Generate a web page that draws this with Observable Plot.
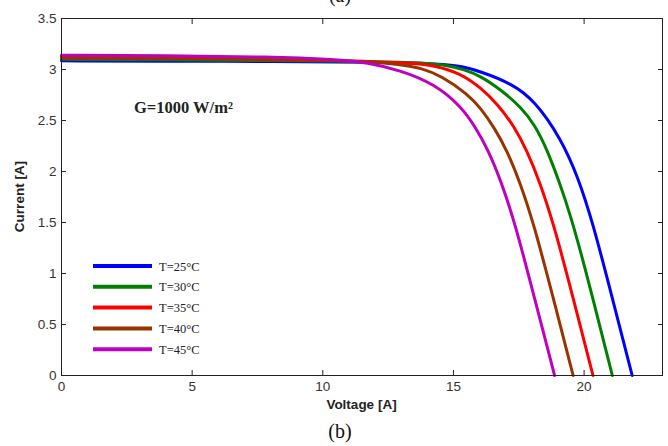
<!DOCTYPE html>
<html><head><meta charset="utf-8">
<script src="https://cdn.jsdelivr.net/npm/d3@7"></script>
<script src="https://cdn.jsdelivr.net/npm/@observablehq/plot@0.6"></script>
<style>body{margin:0;background:#fff}</style>
</head><body><div id="chart"></div>
<script>
const series = ["T=25°C","T=30°C","T=35°C","T=40°C","T=45°C"];
const colors = ["#0000FF","#008000","#FF0000","#993300","#BF00BF"];

const v25 = [0,4,8,12,14,15.2,16.05,17.2,18.1,19.12,19.76,20.33,21.05,21.84];
const i25 = [3.085,3.082,3.078,3.072,3.062,3.04,2.98,2.865,2.70,2.32,1.95,1.50,0.79,0];
const v30 = [0,4,8,11,13,14,14.78,15.4,16.05,16.82,17.59,18.1,18.55,19.25,19.75,20.29,21.08];
const i30 = [3.10,3.095,3.088,3.08,3.07,3.06,3.04,3.00,2.935,2.80,2.63,2.46,2.24,1.76,1.33,0.80,0];
const v35 = [0,4,8,11,12.5,13.5,14.27,15.29,16.05,16.69,17.33,17.8,18.3,18.83,19.55,20.34];
const i35 = [3.115,3.11,3.10,3.085,3.07,3.06,3.04,2.96,2.82,2.66,2.44,2.21,1.90,1.49,0.79,0];
const v40 = [0,4,8,11,12.99,13.8,14.52,15.54,16.05,16.56,17.04,17.54,18.07,18.79,19.58];
const i40 = [3.125,3.12,3.105,3.085,3.055,3.01,2.94,2.76,2.62,2.43,2.21,1.90,1.49,0.79,0];
const v45 = [0,4,8,10.5,11.71,12.99,14.26,15.29,15.85,16.33,16.83,17.36,18.08,18.87];
const i45 = [3.14,3.135,3.125,3.10,3.07,2.99,2.86,2.64,2.43,2.21,1.90,1.49,0.78,0];

const xTicks = [0,5,10,15,20];
const yTicks = [0,0.5,1,1.5,2,2.5,3,3.5];

const vs = [v25,v30,v35,v40,v45], is = [i25,i30,i35,i40,i45];
const rows = [];
series.forEach((s,k) => vs[k].forEach((v,j) => rows.push({t:s, v, i: is[k][j]})));

const W = 668, H = 446, mL = 61, mR = 6, mT = 18, mB = 71;
const chart = Plot.plot({
  width: W, height: H,
  marginLeft: mL, marginRight: mR, marginTop: mT, marginBottom: mB,
  style: {fontFamily: "'Liberation Sans', Arial, sans-serif", fontSize: "13.5px", color: "#333", background: "#fff", overflow: "visible"},
  x: {domain: [0, 23]},
  y: {domain: [0, 3.5]},
  color: {domain: series, range: colors},
  marks: [
    Plot.axisX({anchor: "bottom", ticks: xTicks, tickSize: -5, tickPadding: 11, tickFormat: d => `${d}`, label: null, stroke: "#222"}),
    Plot.axisX({anchor: "top", ticks: xTicks, tickSize: -5, tickFormat: () => "", label: null, stroke: "#222"}),
    Plot.axisY({anchor: "left", ticks: yTicks, tickSize: -5, tickPadding: 10, tickFormat: d => `${d}`, label: null, stroke: "#222"}),
    Plot.axisY({anchor: "right", ticks: yTicks, tickSize: -5, tickFormat: () => "", label: null, stroke: "#222"}),
    Plot.line(rows, {x: "v", y: "i", z: "t", stroke: "t", strokeWidth: 3, curve: "basis"}),
    Plot.frame({stroke: "#222"})
  ]
});
document.getElementById("chart").appendChild(chart);

const svg = d3.select(chart);
const cx = (mL + W - mR) / 2;
// axis labels
svg.append("text").attr("x", cx).attr("y", 409).attr("text-anchor", "middle")
  .attr("font-family", "'Liberation Sans', Arial, sans-serif").attr("font-weight", "bold")
  .attr("font-size", 13.5).attr("fill", "#222").text("Voltage [A]");
svg.append("text").attr("transform", `translate(24,${(mT + H - mB) / 2}) rotate(-90)`).attr("text-anchor", "middle")
  .attr("font-family", "'Liberation Sans', Arial, sans-serif").attr("font-weight", "bold")
  .attr("font-size", 13.5).attr("fill", "#222").text("Current [A]");
// panel labels
svg.append("text").attr("x", 340).attr("y", 2).attr("text-anchor", "middle")
  .attr("font-family", "'Liberation Serif', 'Times New Roman', serif").attr("font-size", 20).attr("fill", "#111").text("(a)");
svg.append("text").attr("x", 340).attr("y", 438).attr("text-anchor", "middle")
  .attr("font-family", "'Liberation Serif', 'Times New Roman', serif").attr("font-size", 20).attr("fill", "#111").text("(b)");
// annotation
svg.append("text").attr("x", 134).attr("y", 113).attr("text-anchor", "start")
  .attr("font-family", "'Liberation Serif', 'Times New Roman', serif").attr("font-weight", "bold")
  .attr("font-size", 16.5).attr("fill", "#222").text("G=1000 W/m²");
// legend
const lg = svg.append("g");
series.forEach((s, k) => {
  const y = 266 + k * 20.8;
  lg.append("line").attr("x1", 93).attr("x2", 152).attr("y1", y).attr("y2", y)
    .attr("stroke", colors[k]).attr("stroke-width", 4);
  lg.append("text").attr("x", 159).attr("y", y + 4.5).attr("text-anchor", "start")
    .attr("font-family", "'Liberation Serif', 'Times New Roman', serif")
    .attr("font-size", 12.5).attr("fill", "#222").text(s);
});
</script>
</body></html>
